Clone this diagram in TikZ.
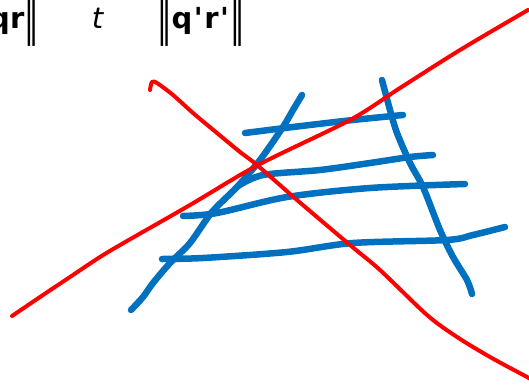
\documentclass[tikz,border=0pt]{standalone}
\usepackage{fontspec}
\setmainfont{DejaVu Sans}[Ligatures=TeXOff]
\usepackage{graphicx}
\usetikzlibrary{positioning}
\definecolor{inkblue}{HTML}{0070C0}
\definecolor{inkred}{HTML}{FF0000}
\tikzset{
  redstroke/.style={draw=inkred, line width=4pt, line cap=round, line join=round},
  bluestroke/.style={draw=inkblue, line width=6.5pt, line cap=round, line join=round},
  lbl/.style={font=\fontsize{29}{29}\selectfont, inner sep=0pt},
}
\newcommand{\dbar}{\raisebox{-0.22em}{\scalebox{1}[1.6]{\mdseries ‖}}}

\begin{document}
\begin{tikzpicture}[x=1pt,y=-1pt]
  \useasboundingbox (0,0) rectangle (529,385);

  % labels
  \node[lbl, anchor=base east] (lhs) at (39,29) {\textbf{qr}\dbar};
  \node[lbl, anchor=base] (tt) at (98,29) {\textit{t}};
  \node[lbl, anchor=base west] (rhs) at (157,29)
       {\dbar\textbf{q\kern1.5pt'\kern1.5pt r\kern1.5pt'}\kern1pt\dbar};

  % blue strokes
  \draw[bluestroke] plot[smooth] coordinates {(131,310) (143,297) (153,283) (170,263)
    (190,243) (212,212) (237,187) (260,160) (283,127) (293,110) (302,95)};
  \draw[bluestroke] plot[smooth] coordinates {(382,80) (390,110) (397,133) (410,163)
    (423,187) (440,230) (453,257) (467,280) (472,294)};
  \draw[bluestroke] plot[smooth] coordinates {(245,133) (293,127) (353,120) (403,115)};
  \draw[bluestroke] plot[smooth] coordinates {(238,186) (263,175) (320,170) (370,163)
    (410,157) (433,155)};
  \draw[bluestroke] plot[smooth] coordinates {(183,216) (217,213) (287,197) (370,188) (465,184)};
  \draw[bluestroke] plot[smooth] coordinates {(162,259) (203,258) (287,252) (353,243)
    (447,240) (473,235) (505,227)};

  % red strokes
  \draw[redstroke] plot[smooth] coordinates {(12,316) (43,295) (70,277) (100,257) (127,241)
    (190,205) (258,165) (350,120) (400,88) (460,50) (528,10)};
  \draw[redstroke] plot[smooth] coordinates {(150,90) (152,82) (157,83) (173,95) (193,113)
    (217,133) (240,152) (257,165) (297,200) (350,245) (380,270) (427,315) (457,337)
    (490,357) (527,377) (532,380)};
\end{tikzpicture}
\end{document}
